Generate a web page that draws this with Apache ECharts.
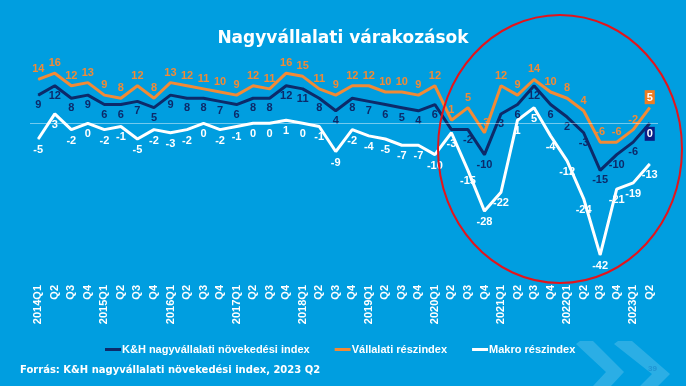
<!DOCTYPE html>
<html>
<head>
<meta charset="utf-8">
<script src="https://cdn.jsdelivr.net/npm/echarts@6/dist/echarts.min.js"></script>
<style>
html,body{margin:0;padding:0;background:#009ee0;}
#c{width:686px;height:386px;}
</style>
</head>
<body>
<div id="c"></div>
<script>
const categories = ['2014Q1','Q2','Q3','Q4','2015Q1','Q2','Q3','Q4','2016Q1','Q2','Q3','Q4','2017Q1','Q2','Q3','Q4','2018Q1','Q2','Q3','Q4','2019Q1','Q2','Q3','Q4','2020Q1','Q2','Q3','Q4','2021Q1','Q2','Q3','Q4','2022Q1','Q2','Q3','Q4','2023Q1','Q2'];
const khIndex = [9,12,8,9,6,6,7,5,9,8,8,7,6,8,8,12,11,8,4,8,7,6,5,4,6,-2,-2,-10,3,6,12,6,2,-3,-15,-10,-6,0];
const vallalati = [14,16,12,13,9,8,12,8,13,12,11,10,9,12,11,16,15,11,9,12,12,10,10,9,12,1,5,-3,12,9,14,10,8,4,-6,-6,-2,5];
const makro = [-5,3,-2,0,-2,-1,-5,-2,-3,-2,0,-2,-1,0,0,1,0,-1,-9,-2,-4,-5,-7,-7,-10,-3,-15,-28,-22,1,5,-4,-12,-24,-42,-21,-19,-13];
const seriesNames = ['K&H nagyvállalati növekedési index','Vállalati részindex','Makro részindex'];

const NAVY = '#0c2a6a', ORANGE = '#f28a35', WHITE = '#ffffff';
const last = categories.length - 1;
const lblFont = {fontFamily:'Liberation Sans, Arial, sans-serif', fontWeight:'bold', fontSize:11};

function mk(values, hide, lastLabel){
  return values.map((v,i)=>{
    if(i===last && lastLabel) return {value:v, label:lastLabel};
    if(hide.indexOf(i)>=0) return {value:v, label:{show:false}};
    return v;
  });
}

const chart = echarts.init(document.getElementById('c'), null, {renderer:'canvas'});
chart.setOption({
  backgroundColor:'#009ee0',
  animation:false,
  title:{text:'Nagyvállalati várakozások', left:'center', top:25,
    textStyle:{color:'#fff', fontFamily:'DejaVu Sans, Verdana, sans-serif', fontWeight:'bold', fontSize:17}},
  legend:{top:339, left:100, itemGap:25, itemWidth:16, itemHeight:3, icon:'rect',
    textStyle:{color:'#fff', fontFamily:'Liberation Sans, Arial, sans-serif', fontWeight:'bold', fontSize:11, padding:[0,0,0,-4]},
    data:seriesNames},
  grid:{left:30, right:28, top:45, bottom:106},
  xAxis:{type:'category', data:categories, boundaryGap:true,
    axisLine:{show:false}, axisTick:{show:false},
    axisLabel:{interval:0, rotate:90, color:'#fff', margin:5, fontFamily:'Liberation Sans, Arial, sans-serif', fontWeight:'bold', fontSize:11}},
  yAxis:{type:'value', min:-50, max:25, show:false, splitLine:{show:false}},
  series:[
    {name:seriesNames[0], type:'line', data:mk(khIndex,[25],{position:'bottom', color:'#fff', backgroundColor:'#0a1f86', padding:[2,2,1,2], distance:3}),
      symbol:'circle', symbolSize:1, showSymbol:true, lineStyle:{color:NAVY, width:3}, itemStyle:{color:NAVY},
      label:Object.assign({show:true, position:'bottom', color:NAVY, distance:4}, lblFont),
      markLine:{silent:true, symbol:'none', label:{show:false}, lineStyle:{color:'rgba(255,255,255,0.45)', type:'solid', width:1}, data:[{yAxis:0}]}},
    {name:seriesNames[1], type:'line', data:mk(vallalati,[],{position:'top', color:'#fff', backgroundColor:'#f07d22', padding:[2,2,1,2], distance:3}),
      symbol:'circle', symbolSize:1, showSymbol:true, lineStyle:{color:ORANGE, width:3}, itemStyle:{color:ORANGE},
      label:Object.assign({show:true, position:'top', color:ORANGE, distance:4}, lblFont)},
    {name:seriesNames[2], type:'line', data:mk(makro,[],null),
      symbol:'circle', symbolSize:1, showSymbol:true, lineStyle:{color:WHITE, width:3}, itemStyle:{color:WHITE},
      label:Object.assign({show:true, position:'bottom', color:WHITE, distance:5}, lblFont)}
  ],
  graphic:[
    {type:'polygon', silent:true, z:-1, shape:{points:[[576,344],[580,341],[593,341],[624,372],[611,386],[593,386],[606,372]]}, style:{fill:'rgba(255,255,255,0.17)'}},
    {type:'polygon', silent:true, z:-1, shape:{points:[[614,344],[618,341],[632,341],[670,374],[658,386],[640,386],[652,374]]}, style:{fill:'rgba(255,255,255,0.17)'}},
    {type:'ellipse', silent:true, z:100, shape:{cx:560, cy:149, rx:122, ry:134}, style:{fill:'none', stroke:'#e3141b', lineWidth:2}},
    {type:'text', left:20, top:365, style:{text:'Forrás: K&H nagyvállalati növekedési index, 2023 Q2', fill:'#fff', font:'bold 10px DejaVu Sans, Verdana, sans-serif'}},
    {type:'text', left:648, top:365, style:{text:'39', fill:'#1f94d4', font:'bold 8px Liberation Sans, Arial, sans-serif'}}
  ]
});
</script>
</body>
</html>
